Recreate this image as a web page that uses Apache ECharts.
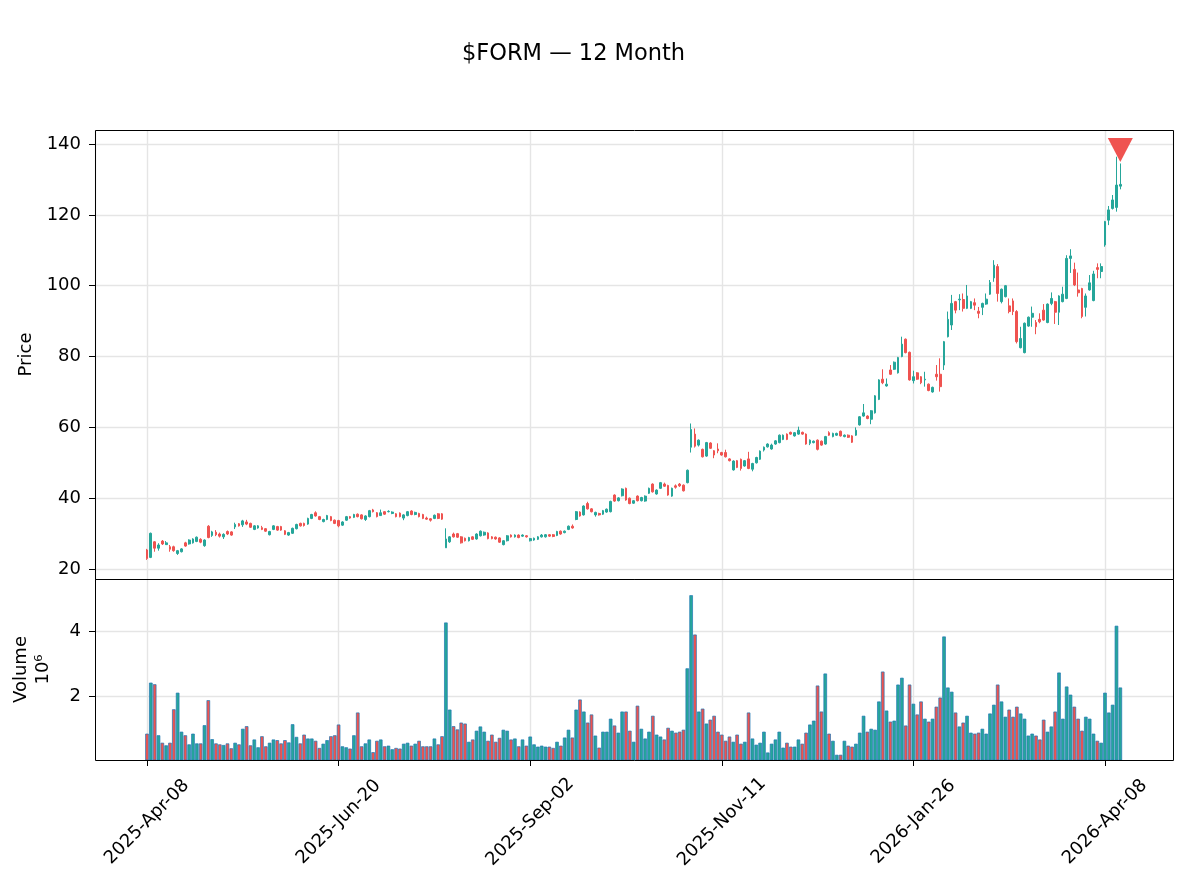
<!DOCTYPE html>
<html>
<head>
<meta charset="utf-8">
<title>$FORM — 12 Month</title>
<script src="https://cdn.jsdelivr.net/npm/echarts/dist/echarts.min.js"></script>
</head>
<body style="margin: 0; background: #fff">
<div id="main" style="width: 1188px; height: 888px"></div>
<script type="text/javascript">
// daily bars, index 0 = 2025-04-08
var opens = [
 25.4, 23.3, 27.7, 25.9, 27.9, 26.9, 26.3, 26.3, 24.4, 24.9,
 27.4, 27.1, 27.4, 27.8, 28.4, 26.6, 32.1, 29.5, 30.4, 29.9,
 29.1, 30.6, 30.5, 31.9, 32.8, 32.5, 33.3, 32.9, 31.2, 31.6,
 31.7, 31.4, 29.7, 31.2, 32.0, 32.0, 30.8, 29.6, 30.1, 31.4,
 32.9, 32.9, 32.7, 34.3, 35.9, 34.8, 33.4, 34.0, 34.8, 33.8,
 33.7, 32.4, 33.8, 34.8, 34.6, 35.5, 35.3, 34.0, 34.8, 36.7,
 35.9, 35.1, 36.2, 36.2, 35.7, 35.6, 35.8, 34.4, 35.1, 36.4,
 35.4, 35.7, 35.4, 34.4, 34.2, 34.3, 35.6, 35.6, 26.0, 27.7,
 29.9, 30.0, 29.1, 28.7, 28.0, 29.1, 28.5, 29.4, 29.6, 30.2,
 29.1, 29.0, 28.8, 26.9, 28.0, 29.6, 29.1, 29.6, 29.3, 29.4,
 28.0, 28.2, 28.4, 29.1, 29.1, 29.7, 29.7, 29.5, 30.7, 30.3,
 31.2, 32.1, 34.0, 36.1, 35.3, 38.5, 37.0, 35.3, 35.7, 35.5,
 36.1, 36.2, 40.9, 39.3, 40.7, 42.8, 40.0, 38.6, 40.6, 39.3,
 39.2, 41.4, 44.0, 41.2, 42.8, 44.0, 43.6, 40.6, 43.5, 44.0,
 43.7, 44.4, 54.4, 58.1, 55.0, 53.8, 51.9, 55.6, 53.4, 53.9,
 52.9, 52.9, 51.1, 48.0, 50.6, 51.0, 49.1, 51.1, 48.2, 50.0,
 51.0, 53.6, 54.5, 53.9, 55.3, 55.7, 56.6, 58.1, 58.6, 57.6,
 58.1, 58.6, 58.1, 55.5, 55.7, 56.4, 56.1, 55.3, 58.5, 57.4,
 57.8, 58.9, 57.4, 57.8, 57.6, 57.8, 60.7, 63.2, 63.2, 62.3,
 64.1, 67.9, 73.6, 71.7, 76.2, 76.4, 75.4, 80.0, 84.9, 81.2,
 73.2, 75.4, 74.3, 73.4, 72.2, 70.0, 75.0, 75.0, 77.6, 85.6,
 88.9, 95.5, 96.0, 96.1, 93.6, 93.6, 95.2, 92.8, 93.9, 94.8,
 97.6, 102.2, 105.4, 95.5, 96.9, 94.3, 95.7, 92.7, 82.5, 81.1,
 88.6, 91.1, 89.6, 90.5, 93.1, 89.6, 95.0, 95.5, 92.5, 95.5,
 96.4, 107.7, 104.6, 98.8, 99.2, 93.9, 98.8, 95.8, 105.1, 104.0,
 111.5, 118.5, 121.8, 122.1, 128.1
];
var closes = [
 23.0, 30.1, 25.9, 26.8, 27.1, 27.4, 25.6, 25.2, 25.2, 25.7,
 26.5, 28.2, 28.5, 29.0, 27.6, 28.2, 28.9, 30.5, 29.7, 29.3,
 29.8, 29.9, 29.6, 32.6, 32.2, 33.6, 32.7, 31.8, 32.2, 32.2,
 31.2, 30.7, 30.6, 32.2, 31.0, 31.0, 29.8, 30.3, 31.5, 32.6,
 32.2, 32.3, 34.3, 35.4, 35.0, 34.0, 34.0, 35.1, 33.7, 32.9,
 32.2, 33.3, 34.8, 34.4, 35.4, 34.8, 34.2, 35.0, 36.5, 36.2,
 34.8, 35.9, 35.5, 36.3, 36.1, 34.8, 34.8, 35.3, 36.2, 35.4,
 36.0, 34.8, 34.3, 34.1, 33.8, 35.2, 34.3, 34.1, 28.5, 29.1,
 29.1, 29.0, 27.4, 28.0, 28.9, 28.4, 29.9, 30.7, 30.4, 28.6,
 28.6, 28.5, 27.6, 28.0, 29.4, 29.1, 29.6, 28.9, 29.6, 29.1,
 28.6, 28.7, 29.1, 29.6, 29.7, 29.3, 29.2, 30.6, 29.9, 30.7,
 32.1, 31.6, 36.2, 35.0, 37.8, 37.0, 36.2, 36.0, 35.3, 36.5,
 36.9, 39.1, 39.2, 40.1, 42.6, 39.5, 38.5, 39.3, 39.3, 40.2,
 40.6, 42.8, 41.8, 42.3, 44.4, 43.4, 40.9, 42.8, 43.1, 43.5,
 42.1, 47.9, 59.4, 54.7, 56.4, 51.7, 55.7, 54.1, 52.2, 53.4,
 52.2, 51.7, 50.6, 50.5, 48.7, 48.4, 50.6, 48.4, 49.8, 51.5,
 53.3, 54.4, 55.3, 55.0, 56.2, 57.8, 57.8, 56.6, 58.1, 58.5,
 59.2, 58.1, 55.3, 56.4, 56.1, 53.8, 55.0, 57.4, 57.8, 58.3,
 58.3, 57.6, 57.8, 57.2, 55.8, 59.2, 63.0, 64.1, 62.5, 64.7,
 68.9, 73.4, 72.6, 72.2, 75.0, 78.4, 79.7, 83.5, 81.1, 73.4,
 74.3, 73.6, 72.6, 73.6, 70.4, 71.3, 74.3, 71.5, 84.2, 90.5,
 95.0, 93.1, 96.2, 93.6, 97.1, 95.5, 94.5, 92.2, 95.0, 96.2,
 100.9, 105.8, 97.8, 99.0, 100.0, 92.7, 92.7, 84.2, 85.1, 89.4,
 91.1, 92.2, 88.4, 89.8, 90.3, 94.8, 96.4, 92.5, 97.1, 97.6,
 107.7, 108.4, 100.2, 98.0, 91.3, 97.1, 100.8, 103.3, 104.6, 105.4,
 118.1, 121.4, 124.2, 128.4, 128.6
];
var lows = [
 22.6, 23.1, 24.9, 25.2, 26.8, 26.8, 24.9, 24.9, 24.0, 24.7,
 26.3, 26.9, 27.2, 27.6, 27.3, 26.3, 28.7, 29.1, 29.3, 28.9,
 28.5, 29.6, 29.4, 31.3, 32.0, 31.9, 32.4, 31.6, 31.0, 31.4,
 31.0, 30.5, 29.5, 31.0, 30.8, 30.8, 29.6, 29.4, 29.9, 31.2,
 32.0, 32.0, 32.5, 34.1, 34.8, 33.8, 33.2, 33.8, 33.5, 32.7,
 31.8, 32.2, 33.6, 34.2, 34.4, 34.6, 34.0, 33.6, 34.6, 36.0,
 34.6, 35.0, 35.3, 36.0, 35.5, 34.6, 34.6, 33.8, 34.9, 35.2,
 35.2, 34.6, 34.1, 33.9, 33.4, 34.1, 34.1, 33.9, 26.0, 27.4,
 28.9, 28.8, 27.2, 27.8, 27.8, 28.2, 28.3, 29.2, 29.4, 28.4,
 28.4, 28.3, 27.4, 26.7, 27.8, 28.9, 28.9, 28.7, 29.1, 28.9,
 27.8, 28.0, 28.2, 28.9, 28.9, 29.1, 29.0, 29.3, 29.7, 30.1,
 31.0, 31.4, 33.8, 34.8, 35.1, 36.8, 36.0, 34.8, 35.1, 35.3,
 35.9, 36.0, 39.0, 39.1, 40.5, 39.3, 38.3, 38.4, 39.1, 39.1,
 39.0, 41.2, 41.6, 41.0, 42.6, 43.2, 40.7, 40.4, 42.7, 43.2,
 41.9, 44.2, 52.9, 54.3, 54.6, 51.5, 51.7, 53.9, 51.3, 52.7,
 52.0, 51.5, 50.4, 47.8, 48.5, 47.8, 48.9, 48.2, 47.6, 49.8,
 50.8, 53.2, 54.3, 53.7, 55.1, 55.5, 56.4, 56.4, 57.9, 57.4,
 57.9, 57.9, 55.1, 55.0, 55.5, 53.5, 54.8, 55.1, 57.6, 57.2,
 57.6, 57.4, 57.2, 57.0, 55.6, 57.6, 60.5, 63.0, 62.3, 60.9,
 63.9, 67.7, 72.2, 71.5, 74.8, 76.2, 75.2, 79.8, 80.9, 73.2,
 72.4, 73.4, 72.2, 71.5, 70.2, 69.8, 73.2, 70.1, 76.2, 85.4,
 87.5, 92.2, 93.1, 92.7, 93.4, 93.4, 93.1, 90.8, 91.7, 94.6,
 97.4, 101.1, 95.5, 95.0, 96.7, 92.2, 91.7, 83.7, 82.3, 80.9,
 88.4, 88.4, 86.3, 89.4, 90.1, 89.4, 94.5, 89.2, 88.9, 95.3,
 96.2, 103.6, 99.9, 96.9, 90.8, 91.3, 98.6, 95.6, 102.1, 102.1,
 111.0, 117.1, 121.5, 120.9, 127.2
];
var highs = [
 25.7, 30.3, 27.9, 27.3, 28.2, 27.9, 26.8, 26.6, 25.4, 25.9,
 27.7, 28.4, 28.7, 29.2, 28.7, 28.4, 32.4, 30.8, 31.0, 30.3,
 30.1, 30.9, 30.7, 33.1, 33.0, 33.9, 33.9, 33.1, 32.4, 32.4,
 32.2, 31.6, 30.8, 32.4, 32.2, 32.2, 31.0, 30.5, 31.7, 32.8,
 33.1, 33.1, 34.5, 35.6, 36.3, 35.0, 34.2, 35.3, 35.0, 34.0,
 33.9, 33.5, 35.0, 35.0, 35.6, 35.7, 35.5, 35.2, 36.7, 37.0,
 36.1, 36.8, 36.4, 36.6, 36.3, 35.8, 36.0, 35.5, 36.4, 36.6,
 36.2, 35.9, 35.6, 34.8, 34.4, 35.4, 35.8, 35.8, 31.5, 29.3,
 30.3, 30.2, 29.3, 28.9, 29.1, 29.3, 30.1, 30.9, 30.6, 30.4,
 29.3, 29.2, 29.0, 28.2, 29.6, 29.8, 29.8, 29.8, 29.8, 29.6,
 28.8, 28.9, 29.3, 29.9, 29.9, 29.9, 29.9, 30.8, 30.9, 30.9,
 32.3, 32.6, 36.4, 36.3, 38.0, 39.0, 37.2, 36.2, 35.9, 36.7,
 37.1, 39.3, 41.1, 40.3, 42.8, 43.0, 40.2, 39.5, 40.8, 40.4,
 40.8, 43.0, 44.2, 42.5, 44.6, 44.4, 43.8, 43.0, 43.9, 44.3,
 43.9, 48.1, 61.1, 59.7, 56.6, 54.0, 55.9, 55.8, 53.6, 55.5,
 53.1, 53.7, 51.3, 50.7, 50.8, 51.2, 50.8, 53.1, 50.0, 51.7,
 53.5, 54.6, 55.5, 55.4, 56.4, 58.0, 58.0, 58.3, 58.8, 58.7,
 60.2, 58.8, 58.3, 56.6, 56.3, 56.6, 56.3, 57.6, 58.9, 58.5,
 58.5, 59.1, 58.0, 58.0, 57.8, 60.0, 63.2, 66.6, 63.4, 64.9,
 69.1, 73.6, 76.4, 73.8, 77.6, 78.6, 79.9, 85.6, 85.1, 81.4,
 76.0, 75.6, 74.5, 75.7, 72.4, 71.5, 77.6, 79.5, 84.4, 92.7,
 97.4, 95.7, 97.6, 97.8, 100.2, 95.7, 96.4, 94.0, 95.2, 97.8,
 101.6, 107.2, 106.1, 99.2, 100.2, 96.4, 96.4, 93.1, 88.4, 89.6,
 91.3, 94.1, 90.3, 92.2, 94.8, 95.0, 98.1, 95.7, 97.3, 99.7,
 108.6, 110.3, 106.5, 103.7, 99.4, 97.8, 103.0, 104.2, 106.3, 106.3,
 118.3, 122.5, 125.6, 136.4, 134.5
];
// volume in millions of shares
var volumes = [
 0.85, 2.42, 2.37, 0.80, 0.57, 0.49, 0.57, 1.60, 2.11, 0.91,
 0.80, 0.52, 0.85, 0.55, 0.55, 1.11, 1.88, 0.68, 0.55, 0.52,
 0.50, 0.55, 0.40, 0.57, 0.52, 1.00, 1.08, 0.49, 0.67, 0.43,
 0.77, 0.46, 0.57, 0.67, 0.65, 0.55, 0.65, 0.58, 1.14, 0.75,
 0.55, 0.82, 0.70, 0.70, 0.63, 0.41, 0.54, 0.65, 0.77, 0.80,
 1.13, 0.46, 0.43, 0.39, 0.80, 1.50, 0.46, 0.55, 0.67, 0.28,
 0.63, 0.67, 0.46, 0.48, 0.37, 0.41, 0.39, 0.54, 0.57, 0.48,
 0.54, 0.63, 0.46, 0.46, 0.46, 0.70, 0.52, 0.77, 4.27, 1.59,
 1.08, 0.98, 1.19, 1.16, 0.60, 0.67, 0.94, 1.07, 0.91, 0.63,
 0.82, 0.60, 0.72, 0.97, 0.94, 0.67, 0.70, 0.46, 0.67, 0.48,
 0.76, 0.52, 0.45, 0.48, 0.45, 0.45, 0.41, 0.60, 0.48, 0.73,
 0.97, 0.73, 1.59, 1.90, 1.53, 1.19, 1.44, 0.79, 0.42, 0.91,
 0.91, 1.31, 1.10, 0.88, 1.53, 1.53, 0.94, 0.60, 1.71, 1.00,
 0.70, 0.91, 1.40, 0.82, 0.76, 0.67, 1.03, 0.94, 0.88, 0.91,
 0.97, 2.86, 5.11, 3.90, 1.53, 1.62, 1.16, 1.28, 1.40, 0.91,
 0.82, 0.63, 0.76, 0.60, 0.82, 0.54, 0.60, 1.50, 0.70, 0.51,
 0.57, 0.91, 0.27, 0.54, 0.67, 0.91, 0.42, 0.57, 0.45, 0.45,
 0.67, 0.54, 0.88, 1.13, 1.25, 2.33, 1.53, 2.70, 0.85, 0.63,
 0.20, 0.20, 0.63, 0.48, 0.45, 0.54, 0.88, 1.40, 0.91, 1.00,
 0.97, 1.84, 2.76, 1.56, 1.22, 1.25, 2.36, 2.57, 1.10, 2.36,
 1.77, 1.44, 1.84, 1.31, 1.22, 1.31, 1.68, 1.96, 3.84, 2.27,
 2.14, 1.50, 1.07, 1.19, 1.40, 0.88, 0.85, 0.88, 1.00, 0.85,
 1.47, 1.74, 2.36, 1.84, 1.37, 1.59, 1.37, 1.68, 1.47, 1.31,
 0.79, 0.85, 0.79, 0.67, 1.28, 0.91, 1.07, 1.53, 2.73, 1.31,
 2.30, 2.05, 1.68, 1.31, 0.94, 1.37, 1.31, 0.85, 0.63, 0.57,
 2.11, 1.50, 1.74, 4.17, 2.27
];

// x tick positions (bar index) and their date labels
var tickIdx = [0, 50, 100, 150, 200, 250];
var tickLabels = ['2025-Apr-08', '2025-Jun-20', '2025-Sep-02', '2025-Nov-11', '2026-Jan-26', '2026-Apr-08'];
var priceTicks = [20, 40, 60, 80, 100, 120, 140];
var volTicks = [2, 4];

// sell-signal marker on the last bar
var markerIdx = [254];
var markerPrice = [138.3];

var UP = '#26a69a';
var DOWN = '#ef5350';
var VOL_EDGE = '#1f77b4';
var FONT = 'DejaVu Sans';
var FS = 18;
var GRIDLINE = { color: '#e5e5e5', width: 1.4 };

// panel layout
var L = 95, W = 1078;
var P_TOP = 130, P_H = 449;
var V_TOP = 579, V_H = 181;

var candleData = opens.map(function (o, i) {
 return [i, o, closes[i], lows[i], highs[i]];
});
var volData = volumes.map(function (v, i) {
 return [i, v, closes[i] >= opens[i] ? 1 : 0];
});
var markerData = markerIdx.map(function (x, i) { return [x, markerPrice[i]]; });

var myChart = echarts.init(document.getElementById('main'), null, { renderer: 'canvas' });

function xAxisBase(grid) {
 return {
 type: 'value',
 gridIndex: grid,
 min: -13.57,
 max: 267.75,
 splitNumber: 6,
 axisLine: { show: false, onZero: false },
 splitLine: { show: true, lineStyle: GRIDLINE }
 };
}

var xPrice = xAxisBase(0);
xPrice.axisTick = { show: false };
xPrice.axisLabel = { show: false };

var xVol = xAxisBase(1);
xVol.axisTick = { show: true, length: 6, customValues: tickIdx, lineStyle: { color: '#000' } };
xVol.axisLabel = {
 show: true,
 customValues: tickIdx,
 rotate: 45,
 align: 'center',
 verticalAlign: 'middle',
 margin: 62,
 fontSize: FS,
 color: '#000',
 fontFamily: FONT,
 formatter: function (v) {
 var k = tickIdx.indexOf(Math.round(v));
 return k >= 0 && Math.abs(v - tickIdx[k]) < 1e-6 ? tickLabels[k] : '';
 }
};

function yLabel(ticks) {
 return {
 customValues: ticks,
 margin: 14,
 fontSize: FS,
 color: '#000',
 fontFamily: FONT,
 formatter: function (v) { return ticks.indexOf(v) >= 0 ? String(v) : ''; }
 };
}

var option = {
 animation: false,
 backgroundColor: '#fff',
 textStyle: { fontFamily: FONT },
 title: {
 text: '$FORM — 12 Month',
 left: 457,
 top: 38,
 textStyle: { fontSize: 22.5, fontWeight: 'normal', color: '#000', fontFamily: FONT }
 },
 grid: [
 { left: L, top: P_TOP, width: W, height: P_H, outerBoundsMode: 'none', containLabel: false },
 { left: L, top: V_TOP, width: W, height: V_H, outerBoundsMode: 'none', containLabel: false }
 ],
 xAxis: [xPrice, xVol],
 yAxis: [
 {
 type: 'value',
 gridIndex: 0,
 min: 17.2,
 max: 143.95,
 splitNumber: 6,
 name: 'Price',
 nameLocation: 'middle',
 nameRotate: 90,
 nameGap: 59,
 nameTextStyle: { fontSize: FS, color: '#000', fontFamily: FONT },
 axisLine: { show: false, onZero: false },
 axisTick: { show: true, length: 6, customValues: priceTicks, lineStyle: { color: '#000' } },
 axisLabel: yLabel(priceTicks),
 splitLine: { show: true, lineStyle: GRIDLINE }
 },
 {
 type: 'value',
 gridIndex: 1,
 min: 0.05,
 max: 5.62,
 splitNumber: 3,
 name: 'Volume\n10⁶',
 nameLocation: 'middle',
 nameRotate: 90,
 nameGap: 41,
 nameTextStyle: { fontSize: FS, color: '#000', fontFamily: FONT, lineHeight: 22 },
 axisLine: { show: false, onZero: false },
 axisTick: { show: true, length: 6, customValues: volTicks, lineStyle: { color: '#000' } },
 axisLabel: yLabel(volTicks),
 splitLine: { show: true, lineStyle: GRIDLINE }
 }
 ],
 // black frames around both panels, drawn above the grid lines
 graphic: [
 { type: 'rect', z: 100, silent: true, shape: { x: L + 0.5, y: P_TOP + 0.5, width: W, height: P_H }, style: { fill: 'none', stroke: '#000', lineWidth: 1 } },
 { type: 'rect', z: 100, silent: true, shape: { x: L + 0.5, y: V_TOP + 0.5, width: W, height: V_H }, style: { fill: 'none', stroke: '#000', lineWidth: 1 } }
 ],
 series: [
 {
 name: 'Price',
 type: 'candlestick',
 xAxisIndex: 0,
 yAxisIndex: 0,
 data: candleData,
 encode: { x: 0, y: [1, 2, 3, 4] },
 barWidth: 2.2,
 itemStyle: {
 color: UP,
 color0: DOWN,
 borderColor: UP,
 borderColor0: DOWN,
 borderWidth: 1
 }
 },
 {
 name: 'Signal',
 type: 'scatter',
 xAxisIndex: 0,
 yAxisIndex: 0,
 data: markerData,
 symbol: 'triangle',
 symbolRotate: 180,
 symbolSize: [25, 24],
 itemStyle: { color: DOWN, opacity: 1 },
 z: 5
 },
 {
 name: 'Volume',
 type: 'custom',
 xAxisIndex: 1,
 yAxisIndex: 1,
 data: volData,
 encode: { x: 0, y: 1 },
 renderItem: function (params, api) {
 var x = api.value(0);
 var top = api.coord([x, api.value(1)]);
 var base = api.coord([x, 0]);
 var w = api.size([1, 0])[0] * 0.74;
 var cs = params.coordSys;
 var rect = echarts.graphic.clipRectByRect(
 { x: top[0] - w / 2, y: top[1], width: w, height: base[1] - top[1] },
 { x: cs.x, y: cs.y, width: cs.width, height: cs.height }
 );
 if (!rect) return;
 return {
 type: 'rect',
 shape: rect,
 style: { fill: api.value(2) ? UP : DOWN, stroke: VOL_EDGE, lineWidth: 0.7 }
 };
 }
 }
 ]
};

myChart.setOption(option);
</script>
</body>
</html>
